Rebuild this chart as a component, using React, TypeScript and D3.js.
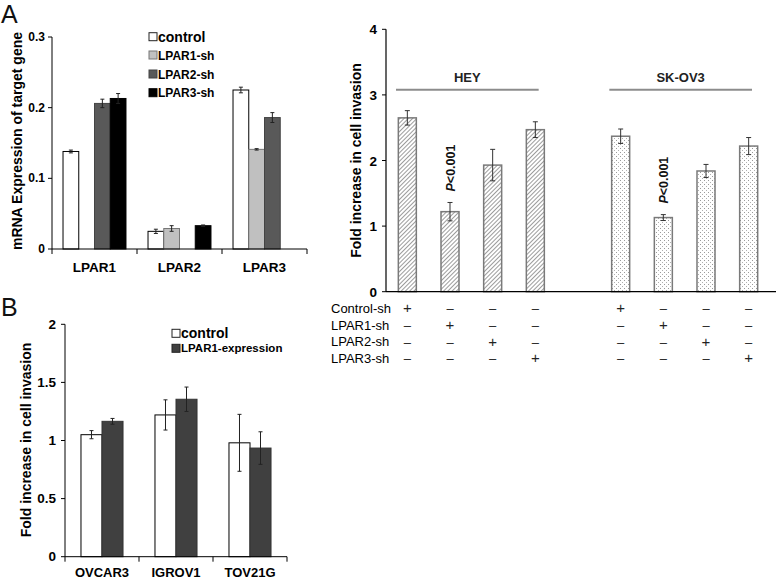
import React from 'react';
import * as d3 from 'd3';

// Panel A (left): mRNA expression
const genesA = ['LPAR1', 'LPAR2', 'LPAR3'];
const seriesA = ['control', 'LPAR1-sh', 'LPAR2-sh', 'LPAR3-sh'];
const valuesA: (number | null)[][] = [
  [0.138, null, 0.206, 0.213],
  [0.025, 0.029, null, 0.033],
  [0.225, 0.141, 0.186, null],
];
const errorsA: number[][] = [
  [0.002, 0, 0.006, 0.007],
  [0.003, 0.004, 0, 0.001],
  [0.004, 0.001, 0.007, 0],
];
const ticksA = [0, 0.1, 0.2, 0.3];

// Panel A (right): invasion
const cellLines = ['HEY', 'SK-OV3'];
const shRows = ['Control-sh', 'LPAR1-sh', 'LPAR2-sh', 'LPAR3-sh'];
const heyValues = [2.65, 1.22, 1.93, 2.47];
const heyErrors = [0.11, 0.14, 0.24, 0.12];
const skov3Values = [2.37, 1.13, 1.84, 2.22];
const skov3Errors = [0.11, 0.045, 0.1, 0.13];
const ticksR = [0, 1, 2, 3, 4];

// Panel B
const linesB = ['OVCAR3', 'IGROV1', 'TOV21G'];
const seriesB = ['control', 'LPAR1-expression'];
const controlB = [1.05, 1.22, 0.98];
const controlErrB = [0.035, 0.13, 0.245];
const lparB = [1.165, 1.355, 0.935];
const lparErrB = [0.025, 0.105, 0.14];
const ticksB = [0, 0.5, 1, 1.5, 2];

const FONT = '"Liberation Sans", Arial, sans-serif';
const fillA = ['#ffffff', '#c0c0c0', '#595959', '#000000'];
const strokeA = ['#000', '#777', '#444', '#000'];
const fillB = ['#ffffff', '#404040'];

const ErrBar = ({ x, y1, y2, w = 5, color = '#222' }: any) => (
  <g stroke={color} strokeWidth={1}>
    <line x1={x} x2={x} y1={y1} y2={y2} />
    <line x1={x - w / 2} x2={x + w / 2} y1={y1} y2={y1} />
    <line x1={x - w / 2} x2={x + w / 2} y1={y2} y2={y2} />
  </g>
);

export default function App() {
  // ---- left A
  const yA = d3.scaleLinear().domain([0, 0.3]).range([249, 37]);
  const x0A = d3.scaleBand<string>().domain(genesA).range([52, 307]);
  const x1A = d3.scaleBand<string>().domain(seriesA).range([0, x0A.bandwidth()]).paddingOuter(0.7);

  // ---- right A
  const yR = d3.scaleLinear().domain([0, 4]).range([291.7, 29.3]);
  const slots = d3.range(9);
  const xR = d3.scaleBand<number>().domain(slots).range([386, 770]);
  const barWR = 18;
  const groupsR = [
    { name: cellLines[0], values: heyValues, errors: heyErrors, start: 0, pattern: 'url(#hatch)' },
    { name: cellLines[1], values: skov3Values, errors: skov3Errors, start: 5, pattern: 'url(#dots)' },
  ];

  // ---- B
  const yB = d3.scaleLinear().domain([0, 2]).range([556.7, 324.3]);
  const x0B = d3.scaleBand<string>().domain(linesB).range([65, 287]);
  const x1B = d3.scaleBand<string>().domain(seriesB).range([0, x0B.bandwidth()]).paddingOuter(0.76);
  const valsB = [controlB, lparB];
  const errsB = [controlErrB, lparErrB];

  return (
    <svg width={778} height={579} style={{ position: 'absolute', left: 0, top: 0, fontFamily: FONT, background: '#fff' }}>
      <defs>
        <pattern id="hatch" width={3} height={3} patternUnits="userSpaceOnUse" patternTransform="rotate(45)">
          <rect width={3} height={3} fill="#fff" />
          <line x1={0} y1={0} x2={0} y2={3} stroke="#4a4a4a" strokeWidth={1.1} />
        </pattern>
        <pattern id="dots" width={4} height={4} patternUnits="userSpaceOnUse">
          <rect width={4} height={4} fill="#fff" />
          <rect x={0} y={0} width={1} height={1} fill="#9a9a9a" />
          <rect x={2} y={2} width={1} height={1} fill="#b0b0b0" />
        </pattern>
      </defs>

      {/* Panel letters */}
      <text x={1} y={23} fontSize={25} fill="#111">A</text>
      <text x={1} y={316} fontSize={25} fill="#111">B</text>

      {/* ===== Left A ===== */}
      <g>
        {valuesA.map((row, gi) =>
          row.map((v, si) => {
            if (v == null) return null;
            const x = (x0A(genesA[gi]) as number) + (x1A(seriesA[si]) as number);
            const w = x1A.bandwidth();
            return (
              <g key={`a${gi}-${si}`}>
                <rect x={x} y={yA(v)} width={w} height={yA(0) - yA(v)} fill={fillA[si]} stroke={strokeA[si]} strokeWidth={1} />
                <ErrBar x={x + w / 2} y1={yA(v + errorsA[gi][si])} y2={yA(v - errorsA[gi][si])} w={4} />
              </g>
            );
          })
        )}
        <line x1={52} x2={52} y1={37} y2={249} stroke="#000" />
        <line x1={52} x2={307} y1={249} y2={249} stroke="#000" />
        {ticksA.map((t) => (
          <g key={t}>
            <line x1={48} x2={52} y1={yA(t)} y2={yA(t)} stroke="#000" />
            <text x={45} y={yA(t) + 4} textAnchor="end" fontSize={12} fontWeight="bold">{t === 0 ? '0' : t.toFixed(1)}</text>
          </g>
        ))}
        {[...genesA.map((g) => x0A(g) as number), 307].map((x, i) => (
          <line key={i} x1={x} x2={x} y1={249} y2={254} stroke="#000" />
        ))}
        {genesA.map((g) => (
          <text key={g} x={(x0A(g) as number) + x0A.bandwidth() / 2} y={272} textAnchor="middle" fontSize={13.5} fontWeight="bold">{g}</text>
        ))}
        <text transform="translate(22,141) rotate(-90)" textAnchor="middle" fontSize={14} fontWeight="bold">mRNA Expression of target gene</text>
        {seriesA.map((s, i) => {
          const yy = [36.7, 55, 74, 92.7][i];
          const big = i === 0;
          return (
            <g key={s}>
              <rect x={149} y={yy - 4} width={8} height={8} fill={fillA[i]} stroke={i === 0 ? '#222' : strokeA[i]} strokeWidth={1} />
              <text x={158} y={yy + (big ? 5 : 4.5)} fontSize={big ? 14 : 12} fontWeight="bold">{s}</text>
            </g>
          );
        })}
      </g>

      {/* ===== Right A ===== */}
      <g>
        {groupsR.map((g) => {
          const first = xR(g.start) as number;
          const last = (xR(g.start + 3) as number) + xR.bandwidth();
          const ly = yR(3.08);
          return (
            <g key={g.name}>
              <line x1={first + 10} x2={last - 18} y1={ly} y2={ly} stroke="#8c8c8c" strokeWidth={2} />
              <text x={(first + 10 + last - 18) / 2} y={ly - 8} textAnchor="middle" fontSize={13} fontWeight="bold" fill="#222">{g.name}</text>
              {g.values.map((v, i) => {
                const cx = (xR(g.start + i) as number) + xR.bandwidth() / 2;
                return (
                  <g key={i}>
                    <rect x={cx - barWR / 2} y={yR(v)} width={barWR} height={yR(0) - yR(v)} fill={g.pattern} stroke="#7a7a7a" strokeWidth={1.5} />
                    <ErrBar x={cx} y1={yR(v + g.errors[i])} y2={yR(v - g.errors[i])} w={5} color="#333" />
                    {i === 1 && (
                      <text transform={`translate(${cx + 5},${yR(v + g.errors[i]) - 11}) rotate(-90)`} fontSize={12.5} fontWeight="bold" fill="#111">
                        <tspan fontStyle="italic">P</tspan>{'<0.001'}
                      </text>
                    )}
                  </g>
                );
              })}
            </g>
          );
        })}
        <line x1={386} x2={386} y1={29.3} y2={291.7} stroke="#000" strokeWidth={1.2} />
        <line x1={386} x2={776} y1={291.7} y2={291.7} stroke="#000" strokeWidth={1.2} />
        {ticksR.map((t) => (
          <g key={t}>
            <line x1={382} x2={386} y1={yR(t)} y2={yR(t)} stroke="#000" />
            <text x={377} y={yR(t) + 5} textAnchor="end" fontSize={13.5} fontWeight="bold">{t}</text>
          </g>
        ))}
        <text transform="translate(361,160.5) rotate(-90)" textAnchor="middle" fontSize={14} fontWeight="bold">Fold increase in cell invasion</text>
        {shRows.map((r, ri) => {
          const ry = 308.3 + ri * 16.7;
          return (
            <g key={r}>
              <text x={331} y={ry + 4.5} fontSize={13}>{r}</text>
              {groupsR.map((g) =>
                g.values.map((_, i) => {
                  const cx = (xR(g.start + i) as number) + xR.bandwidth() / 2;
                  return (
                    <text key={`${g.name}${i}`} x={cx} y={ry + 5} textAnchor="middle" fontSize={i === ri ? 15 : 13} fill="#222">
                      {i === ri ? '+' : '–'}
                    </text>
                  );
                })
              )}
            </g>
          );
        })}
      </g>

      {/* ===== B ===== */}
      <g>
        {linesB.map((l, gi) =>
          seriesB.map((s, si) => {
            const x = (x0B(l) as number) + (x1B(s) as number);
            const w = x1B.bandwidth();
            const v = valsB[si][gi];
            const e = errsB[si][gi];
            return (
              <g key={`${l}${s}`}>
                <rect x={x} y={yB(v)} width={w} height={yB(0) - yB(v)} fill={fillB[si]} stroke={si === 0 ? '#000' : '#333'} strokeWidth={1} />
                <ErrBar x={x + w / 2} y1={yB(v + e)} y2={yB(v - e)} w={4} />
              </g>
            );
          })
        )}
        <line x1={65} x2={65} y1={324.3} y2={556.7} stroke="#000" />
        <line x1={65} x2={287} y1={556.7} y2={556.7} stroke="#000" />
        {ticksB.map((t) => (
          <g key={t}>
            <line x1={61} x2={65} y1={yB(t)} y2={yB(t)} stroke="#000" />
            <text x={56} y={yB(t) + 4.5} textAnchor="end" fontSize={13.5} fontWeight="bold">{t}</text>
          </g>
        ))}
        {[...linesB.map((l) => x0B(l) as number), 287].map((x, i) => (
          <line key={i} x1={x} x2={x} y1={556.7} y2={561.7} stroke="#000" />
        ))}
        {linesB.map((l) => (
          <text key={l} x={(x0B(l) as number) + x0B.bandwidth() / 2} y={577} textAnchor="middle" fontSize={13} fontWeight="bold">{l}</text>
        ))}
        <text transform="translate(31,440) rotate(-90)" textAnchor="middle" fontSize={14} fontWeight="bold">Fold increase in cell invasion</text>
        {seriesB.map((s, i) => {
          const yy = [333.3, 348.3][i];
          return (
            <g key={s}>
              <rect x={172} y={yy - 4} width={8} height={8} fill={fillB[i]} stroke="#222" strokeWidth={1} />
              <text x={181} y={yy + (i === 0 ? 5 : 4)} fontSize={i === 0 ? 14 : 11.5} fontWeight="bold">{s}</text>
            </g>
          );
        })}
      </g>
    </svg>
  );
}
